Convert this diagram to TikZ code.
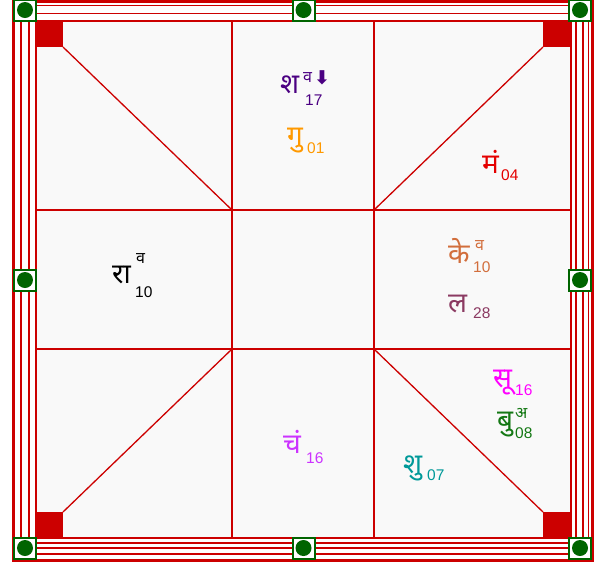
\documentclass[tikz,border=0pt]{standalone}
\usepackage{fontspec}
\newfontfamily\dev[Script=Devanagari]{Noto Sans}
\newfontfamily\sym{DejaVu Sans}
\newfontfamily\num{Liberation Sans}
\definecolor{fr}{RGB}{204,0,0}
\definecolor{chartbg}{RGB}{249,249,249}
\definecolor{dg}{RGB}{0,100,0}
\definecolor{cSha}{RGB}{75,0,130}
\definecolor{cGu}{RGB}{255,153,0}
\definecolor{cMa}{RGB}{228,0,0}
\definecolor{cKe}{RGB}{210,110,60}
\definecolor{cLa}{RGB}{139,58,98}
\definecolor{cSu}{RGB}{255,0,255}
\definecolor{cBu}{RGB}{20,120,20}
\definecolor{cShu}{RGB}{0,153,153}
\definecolor{cCha}{RGB}{204,51,255}
\begin{document}
\begin{tikzpicture}[x=1pt,y=-1pt,
  frameline/.style={draw=fr,line width=1.6pt},
  gridline/.style={draw=fr,line width=1.3pt},
  gbox/.style={draw=dg,line width=2pt,fill=white,minimum width=22pt,minimum height=21pt,inner sep=0pt},
  gdot/.style={circle,fill=dg,minimum size=16pt,inner sep=0pt},
  lbl/.style={inner sep=0pt,anchor=base west,font=\dev\fontsize{28}{28}\selectfont},
  sml/.style={inner sep=0pt,anchor=base west,font=\dev\fontsize{16}{16}\selectfont},
  dig/.style={inner sep=0pt,anchor=base west,font=\num\fontsize{15.5}{15.5}\selectfont}]
\useasboundingbox (0,0) rectangle (600,566);
\fill[white] (0,0) rectangle (600,566);
\fill[chartbg] (36,21) rectangle (571,538);
% frame
\draw[draw=fr,line width=3pt] (13.5,1) rectangle (592.5,560.5);
\draw[frameline] (21,5.5) rectangle (588.5,554);
\draw[frameline] (29,13.5) rectangle (583,548);
\draw[frameline] (35.5,20.5) rectangle (576,543);
\draw[frameline] (36,21) rectangle (571,538);
% corner squares
\fill[fr] (36,21) rectangle (63,47);
\fill[fr] (543,21) rectangle (571,47);
\fill[fr] (36,512) rectangle (63,538);
\fill[fr] (543,512) rectangle (571,538);
% grid
\draw[gridline] (232,21) -- (232,538);
\draw[gridline] (374,21) -- (374,538);
\draw[gridline] (36,210) -- (571,210);
\draw[gridline] (36,349) -- (571,349);
\draw[gridline] (63,47) -- (232,210);
\draw[gridline] (543,47) -- (374,210);
\draw[gridline] (63,512) -- (232,349);
\draw[gridline] (543,512) -- (374,349);
% green boxes
\foreach \n/\px/\py in {g1/25/10, g2/303.5/10, g3/580/10, g4/25/280, g5/580/280, g6/25/548, g7/303.5/548, g8/580/548}{
  \node[gbox] (\n) at (\px,\py) {};
  \node[gdot] (\n d) at (\n.center) {};
}
% labels
\node[lbl,text=cSha] (sha) at (280,93) {श};
\node[sml,text=cSha] (shaV) at (303,82) {व};
\node[inner sep=0pt,anchor=base west,text=cSha,font=\sym\bfseries\fontsize{19}{19}\selectfont] (shaA) at (314,84) {⬇};
\node[dig,text=cSha] (shaN) at (305,105) {17};

\node[lbl,text=cGu] (gu) at (287,145) {गु};
\node[dig,text=cGu] (guN) at (307,153) {01};

\node[lbl,text=cMa] (ma) at (482,173) {मं};
\node[dig,text=cMa] (maN) at (501,180) {04};

\node[lbl,text=cKe] (ke) at (448,263) {के};
\node[sml,text=cKe] (keV) at (475,250) {व};
\node[dig,text=cKe] (keN) at (473,272) {10};

\node[lbl,text=cLa] (la) at (448,312) {ल};
\node[dig,text=cLa] (laN) at (473,318) {28};

\node[lbl,text=black] (ra) at (112,283) {रा};
\node[sml,text=black] (raV) at (136,263) {व};
\node[dig,text=black] (raN) at (135,297) {10};

\node[lbl,text=cSu] (su) at (493,387) {सू};
\node[dig,text=cSu] (suN) at (515,395) {16};

\node[lbl,text=cBu] (bu) at (497,429) {बु};
\node[sml,text=cBu] (buA) at (515,418) {अ};
\node[dig,text=cBu] (buN) at (515,438) {08};

\node[lbl,text=cShu] (shu) at (403,473) {शु};
\node[dig,text=cShu] (shuN) at (427,480) {07};

\node[lbl,text=cCha] (cha) at (283,453) {चं};
\node[dig,text=cCha] (chaN) at (306,463) {16};
\end{tikzpicture}
\end{document}
